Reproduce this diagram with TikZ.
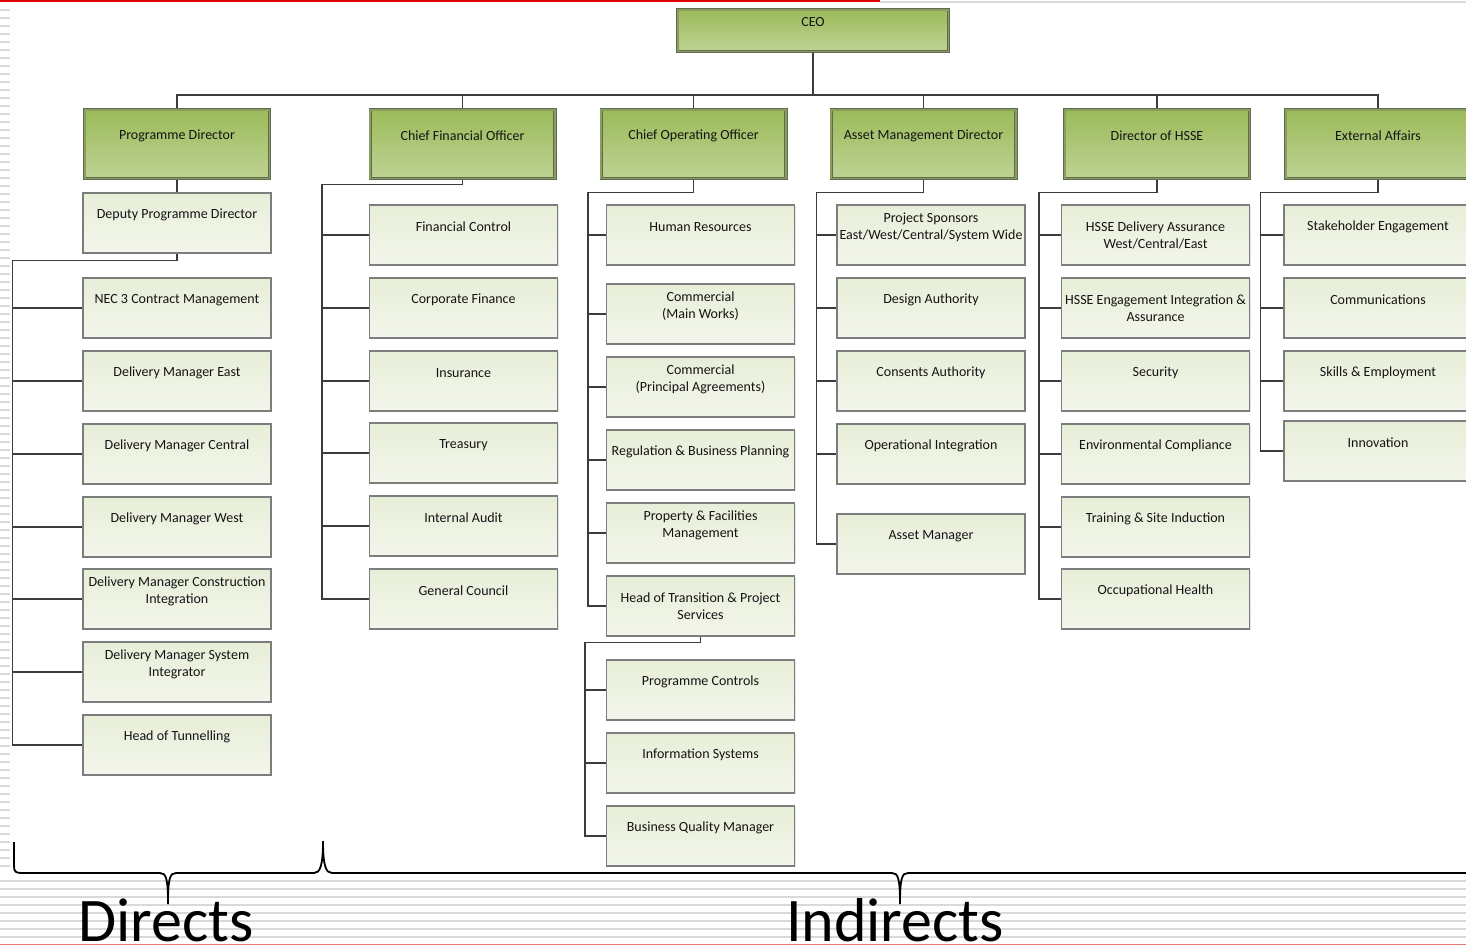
\documentclass[tikz,border=0pt]{standalone}
\usepackage{fontspec}
\setmainfont{Carlito}
\usetikzlibrary{shadows,calc}

\definecolor{hdtop}{RGB}{155,187,89}
\definecolor{hdbot}{RGB}{190,210,148}
\definecolor{hdline}{RGB}{96,106,78}
\definecolor{hdmid}{RGB}{138,158,96}
\definecolor{sbtop}{RGB}{231,238,216}
\definecolor{sbbot}{RGB}{243,246,235}
\definecolor{sbline}{RGB}{125,125,125}
\definecolor{conncol}{RGB}{60,60,60}
\definecolor{stripecol}{RGB}{217,217,217}
\definecolor{redtop}{RGB}{220,0,0}
\definecolor{redbot}{RGB}{232,120,120}

\pgfdeclarelayer{bg}
\pgfsetlayers{bg,main}

\tikzset{
  hdbox/.style={rectangle, inner sep=0pt, minimum width=184.6pt, minimum height=68.6pt,
    top color=hdtop, bottom color=hdbot, draw=hdline, double=hdmid,
    double distance=1.6pt, line width=0.9pt,
    drop shadow={shadow xshift=1.5pt, shadow yshift=-1.5pt, opacity=0.25}},
  ceobox/.style={hdbox, minimum width=270.6pt, minimum height=41.6pt},
  subbox/.style={rectangle, inner sep=0pt, minimum width=188pt, minimum height=60pt,
    top color=sbtop, bottom color=sbbot, draw=sbline, line width=1.1pt,
    drop shadow={shadow xshift=1.2pt, shadow yshift=-1.2pt, opacity=0.2}},
  boxtext/.style={inner sep=0pt, align=center, text=black!92,
    font=\fontsize{14}{17}\selectfont},
  bigtext/.style={inner sep=0pt, anchor=base, text=black,
    font=\fontsize{62}{70}\selectfont},
  connline/.style={draw=conncol, line width=1.2pt},
  stripe/.style={draw=stripecol, line width=1.5pt},
  bracket/.style={draw=black, line width=1.8pt},
}

% box with its caption: [caption offset]{name}{x}{y}{caption}
\newcommand{\subbx}[5][-8]{%
  \node[subbox] (#2) at (#3,#4) {};
  \node[boxtext] (#2-t) at (#3,#4+#1) {#5};}
\newcommand{\hdbx}[4]{%
  \node[hdbox] (#1) at (#2,#3) {};
  \node[boxtext] (#1-t) at (#2,#3-8) {#4};}

\begin{document}
\begin{tikzpicture}[x=1pt,y=-1pt]
\useasboundingbox (0,0) rectangle (1466,945);
\clip (0,0) rectangle (1466,945);

% ruled paper
\begin{pgfonlayer}{bg}
\fill[white] (0,0) rectangle (1466,945);
\foreach \yy in {10,18,...,866} \draw[stripe] (0,\yy) -- (10,\yy);
\foreach \yy in {881,889,...,937} \draw[stripe] (0,\yy) -- (1466,\yy);
\fill[redtop] (0,0) rectangle (880,2);
\fill[stripecol] (880,1) rectangle (1466,2.6);
\fill[redbot] (0,943.5) rectangle (1466,945);
\end{pgfonlayer}

% top level
\node[ceobox] (ceo) at (813,30.5) {};
\node[boxtext] (ceo-t) at (813,22.5) {CEO};

\hdbx{pd}{177}{144}{Programme Director}
\hdbx{cfo}{462.5}{144}{Chief Financial Officer}
\hdbx{coo}{693.5}{144}{Chief Operating Officer}
\hdbx{amd}{923.5}{144}{Asset Management Director}
\hdbx{hsse}{1157}{144}{Director of HSSE}
\hdbx{ea}{1378}{144}{External Affairs}

% Programme Director
\subbx{dpd}{177}{223}{Deputy Programme Director}
\subbx{nec}{177}{308}{NEC 3 Contract Management}
\subbx{dme}{177}{381}{Delivery Manager East}
\subbx{dmc}{177}{454}{Delivery Manager Central}
\subbx{dmw}{177}{527}{Delivery Manager West}
\subbx{dmci}{177}{599}{Delivery Manager Construction\\Integration}
\subbx{dmsi}{177}{672}{Delivery Manager System\\Integrator}
\subbx{hot}{177}{745}{Head of Tunnelling}

% Chief Financial Officer
\subbx{fc}{463.5}{235}{Financial Control}
\subbx{cf}{463.5}{308}{Corporate Finance}
\subbx{ins}{463.5}{381}{Insurance}
\subbx{tre}{463.5}{453}{Treasury}
\subbx{ia}{463.5}{526}{Internal Audit}
\subbx{gc}{463.5}{599}{General Council}

% Chief Operating Officer
\subbx{hr}{700.5}{235}{Human Resources}
\subbx{cmw}{700.5}{314}{Commercial\\(Main Works)}
\subbx{cpa}{700.5}{387}{Commercial\\(Principal Agreements)}
\subbx{rbp}{700.5}{460}{Regulation \& Business Planning}
\subbx{pfm}{700.5}{533}{Property \& Facilities\\Management}
\subbx[0]{htp}{700.5}{606}{Head of Transition \& Project\\Services}
\subbx{pc}{700.5}{690}{Programme Controls}
\subbx{is}{700.5}{763}{Information Systems}
\subbx{bqm}{700.5}{836}{Business Quality Manager}

% Asset Management Director
\subbx{ps}{931}{235}{Project Sponsors\\East/West/Central/System Wide}
\subbx{da}{931}{308}{Design Authority}
\subbx{ca}{931}{381}{Consents Authority}
\subbx{oi}{931}{454}{Operational Integration}
\subbx{am}{931}{544}{Asset Manager}

% Director of HSSE
\subbx[0]{hda}{1155.5}{235}{HSSE Delivery Assurance\\West/Central/East}
\subbx[0]{hei}{1155.5}{308}{HSSE Engagement Integration \&\\Assurance}
\subbx{sec}{1155.5}{381}{Security}
\subbx{env}{1155.5}{454}{Environmental Compliance}
\subbx{tsi}{1155.5}{527}{Training \& Site Induction}
\subbx{oh}{1155.5}{599}{Occupational Health}

% External Affairs
\subbx{se}{1378}{235}{Stakeholder Engagement}
\subbx{com}{1378}{308}{Communications}
\subbx{skl}{1378}{381}{Skills \& Employment}
\subbx{inn}{1378}{451}{Innovation}

% connectors
\begin{pgfonlayer}{bg}
\coordinate (bus) at (813,95);
\draw[connline] (ceo.south) -- (bus);
\draw[connline] (pd.north) -- (pd.north |- bus) -- (ea.north |- bus) -- (ea.north);
\foreach \n in {cfo,coo,amd,hsse} \draw[connline] (\n.north) -- (\n.north |- bus);

\draw[connline] (pd.south) -- (dpd.north);
\draw[connline] (dpd.south) -- ++(0,7) -| ([xshift=-70pt]hot.west) -- (hot.west);
\foreach \n in {nec,dme,dmc,dmw,dmci,dmsi} \draw[connline] (\n.west) -- ++(-70,0);

\draw[connline] (cfo.south) -- ++(0,6) -| ([xshift=-47pt]gc.west) -- (gc.west);
\foreach \n in {fc,cf,ins,tre,ia} \draw[connline] (\n.west) -- ++(-47,0);

\draw[connline] (coo.south) -- ++(0,14) -| ([xshift=-18pt]htp.west) -- (htp.west);
\foreach \n in {hr,cmw,cpa,rbp,pfm} \draw[connline] (\n.west) -- ++(-18,0);
\draw[connline] (htp.south) -- ++(0,6) -| ([xshift=-21pt]bqm.west) -- (bqm.west);
\foreach \n in {pc,is} \draw[connline] (\n.west) -- ++(-21,0);

\draw[connline] (amd.south) -- ++(0,14) -| ([xshift=-20pt]am.west) -- (am.west);
\foreach \n in {ps,da,ca,oi} \draw[connline] (\n.west) -- ++(-20,0);

\draw[connline] (hsse.south) -- ++(0,14) -| ([xshift=-22pt]oh.west) -- (oh.west);
\foreach \n in {hda,hei,sec,env,tsi} \draw[connline] (\n.west) -- ++(-22,0);

\draw[connline] (ea.south) -- ++(0,14) -| ([xshift=-23pt]inn.west) -- (inn.west);
\foreach \n in {se,com,skl} \draw[connline] (\n.west) -- ++(-23,0);
\end{pgfonlayer}

% grouping brackets
\draw[bracket] (14,842) -- (14,866) .. controls (14,872) and (16,873) .. (22,873)
  -- (160,873) .. controls (166,873) and (168,878) .. (168,904)
  .. controls (168,878) and (170,873) .. (176,873)
  -- (314,873) .. controls (320,873) and (323,866) .. (323,841)
  .. controls (323,866) and (326,873) .. (332,873)
  -- (892,873) .. controls (898,873) and (900,878) .. (900,904)
  .. controls (900,878) and (902,873) .. (908,873) -- (1470,873);

\node[bigtext] (directs) at (166,941) {Directs};
\node[bigtext] (indirects) at (895,941) {Indirects};
\end{tikzpicture}
\end{document}
